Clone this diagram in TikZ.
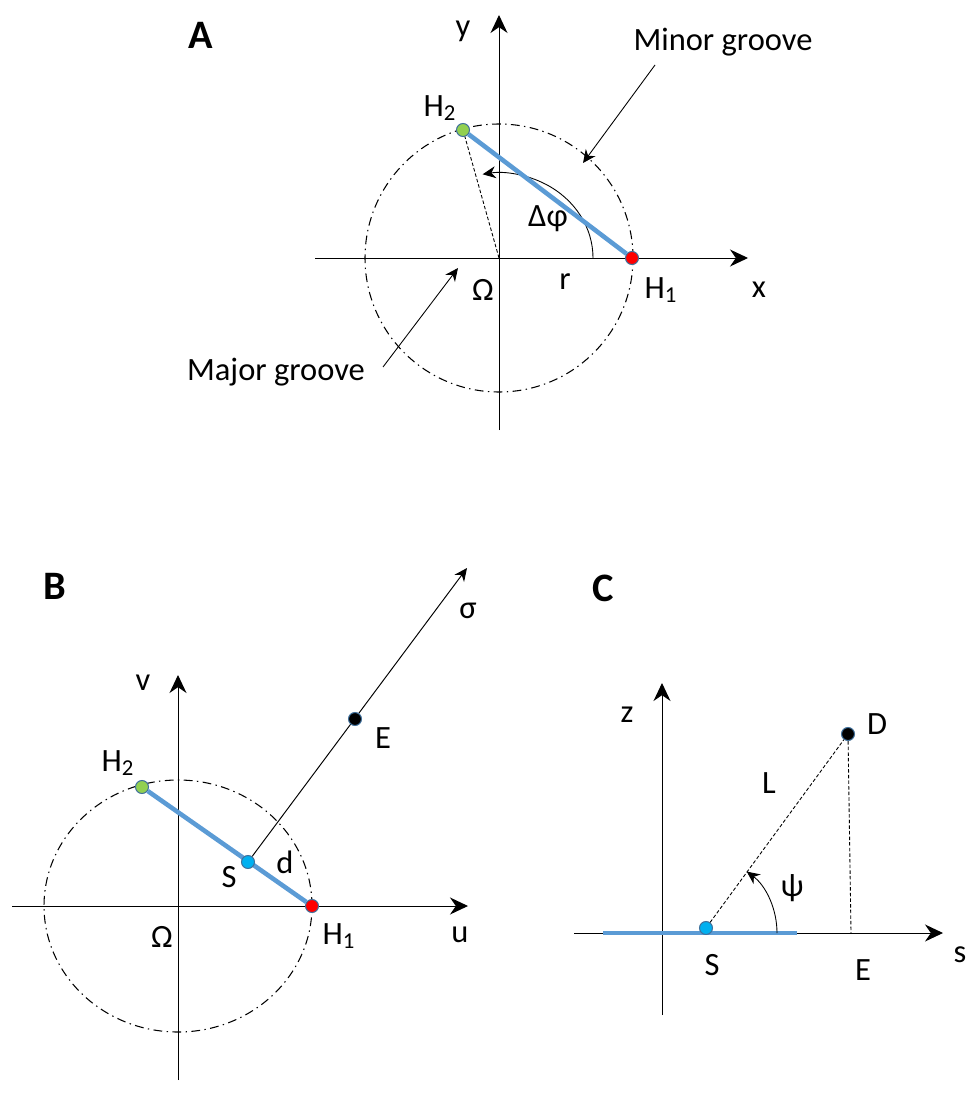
\documentclass[tikz,border=0pt]{standalone}
\usepackage{fontspec}
\setmainfont{Carlito}
\usetikzlibrary{arrows.meta}
\definecolor{StrandColor}{RGB}{91, 155, 213}
\definecolor{RimColor}{RGB}{65, 113, 156}
\definecolor{HOneColor}{RGB}{255, 0, 0}
\definecolor{HTwoColor}{RGB}{146, 208, 80}
\definecolor{SiteColor}{RGB}{0, 176, 240}

\begin{document}
\begin{tikzpicture}[
    x=0.02cm, y=0.02cm,
    >=Stealth,
    axis/.style={-{Stealth[length=0.36cm, width=0.34cm]}, line width=0.55pt},
    pointer/.style={-{Stealth[length=0.26cm, width=0.24cm]}, line width=0.5pt},
    helix/.style={line width=0.6pt, dash pattern=on 5pt off 2.5pt on 0.8pt off 2.5pt},
    strand/.style={line width=2.6pt, StrandColor},
    guide/.style={line width=0.5pt, dash pattern=on 2pt off 1.2pt},
    atom/.style={circle, draw=RimColor, line width=0.6pt,
        inner sep=0pt, minimum size=0.26cm},
    lbl/.style={font=\fontsize{18.5}{22}\selectfont, inner sep=0pt},
    panel/.style={font=\fontsize{23}{27}\selectfont\bfseries, inner sep=0pt},
]
\useasboundingbox (0,0) rectangle (968,-1108);

%% Panel A: cross section
\node[panel] (labA) at (201,-35) {A};
\coordinate (Ao)  at (499,-258);
\coordinate (Axl) at (315,-258);
\coordinate (Axr) at (748,-258);
\coordinate (Ayb) at (499,-430);
\coordinate (Ayt) at (499,-15);
\draw[axis] (Axl) -- (Axr);
\draw[axis] (Ayb) -- (Ayt);
\draw[helix] (Ao) circle[radius=134];

\coordinate (Aarc) at (593,-258);
\draw[pointer] (Aarc) arc[start angle=0, end angle=100, x radius=94, y radius=85];

\node[atom, fill=HTwoColor] (AH2) at (463,-130) {};
\node[atom, fill=HOneColor] (AH1) at (632,-258) {};
\draw[guide] (Ao) -- (AH2);
\draw[strand] (AH2) -- (AH1);

\node[lbl] (Ay)   at (463,-31)  {y};
\node[lbl] (Ax)   at (759,-290) {x};
\node[lbl] (AH2l) at (440,-108) {H\textsubscript{2}};
\node[lbl] (AH1l) at (661,-290) {H\textsubscript{1}};
\node[lbl] (Aom)  at (483,-290) {Ω};
\node[lbl] (Ar)   at (565,-282) {r};
\node[lbl] (Aphi) at (548,-219) {Δφ};

%% Groove pointers
\node[lbl] (minor) at (723,-42) {Minor groove};
\coordinate (minorTail) at (655,-65);
\coordinate (minorTip)  at (583,-163);
\draw[pointer] (minorTail) -- (minorTip);

\node[lbl] (major) at (276,-372) {Major groove};
\coordinate (majorTail) at (383,-367);
\coordinate (majorTip)  at (458,-268);
\draw[pointer] (majorTail) -- (majorTip);

%% Panel B: site frame
\node[panel] (labB) at (55,-586) {B};
\coordinate (Bo)  at (178,-906);
\coordinate (Bul) at (12,-906);
\coordinate (Bur) at (468,-906);
\coordinate (Bvb) at (178,-1080);
\coordinate (Bvt) at (178,-675);
\draw[axis] (Bul) -- (Bur);
\draw[axis] (Bvb) -- (Bvt);
\draw[helix] (Bo) ellipse[x radius=134, y radius=126];

\node[atom, fill=HTwoColor] (BH2) at (142,-787) {};
\node[atom, fill=HOneColor] (BH1) at (312,-906) {};
\draw[strand] (BH2) -- (BH1);

\node[atom, fill=SiteColor] (BS) at (248,-862) {};
\coordinate (Bsig) at (467,-568);
\draw[pointer, line width=0.55pt] (BS) -- (Bsig);
\node[atom, fill=black] (BE) at (355,-719) {};

\node[lbl] (Bv)   at (143,-683) {v};
\node[lbl] (Bu)   at (460,-935) {u};
\node[lbl] (Bsl)  at (468,-611) {σ};
\node[lbl] (BEl)  at (383,-738) {E};
\node[lbl] (BH2l) at (118,-763) {H\textsubscript{2}};
\node[lbl] (BH1l) at (339,-936) {H\textsubscript{1}};
\node[lbl] (BSl)  at (229,-877) {S};
\node[lbl] (Bd)   at (285,-862) {d};
\node[lbl] (Bom)  at (162,-937) {Ω};

%% Panel C: side view
\node[panel] (labC) at (603,-588) {C};
\coordinate (Co)  at (662,-933);
\coordinate (Csl) at (574,-933);
\coordinate (Csr) at (943,-933);
\coordinate (Czb) at (662,-1015);
\coordinate (Czt) at (662,-683);
\draw[axis] (Csl) -- (Csr);
\draw[axis] (Czb) -- (Czt);

\coordinate (Cbl) at (603,-933);
\coordinate (Cbr) at (797,-933);
\draw[strand] (Cbl) -- (Cbr);

\coordinate (CE) at (851,-933);
\node[atom, fill=SiteColor] (CS) at (706,-928) {};
\node[atom, fill=black] (CD) at (848,-734) {};
\draw[guide] (CS) -- (CD);
\draw[guide] (CD) -- (CE);

\coordinate (Carc) at (777,-933);
\draw[pointer] (Carc) arc[start angle=0, end angle=55, x radius=71, y radius=75];

\node[lbl] (Cz)   at (627,-715) {z};
\node[lbl] (Cs)   at (960,-955) {s};
\node[lbl] (CDl)  at (877,-724) {D};
\node[lbl] (CL)   at (769,-783) {L};
\node[lbl] (Cpsi) at (792,-888) {ψ};
\node[lbl] (CSl)  at (712,-965) {S};
\node[lbl] (CEl)  at (863,-970) {E};

\end{tikzpicture}
\end{document}
